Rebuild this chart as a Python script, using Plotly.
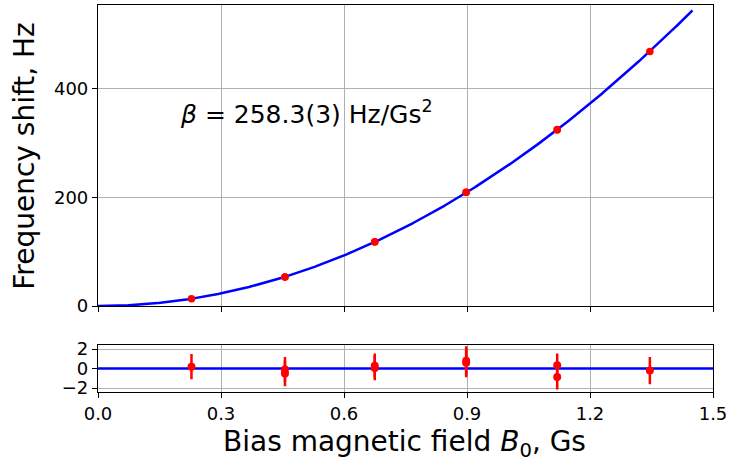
import numpy as np
import plotly.graph_objects as go

# ---------------- data ----------------
beta = 258.3  # Hz/Gs^2 (fit)
field_B0 = [0.228, 0.456, 0.456, 0.675, 0.675, 0.898, 0.898, 1.120, 1.120, 1.346]
freq_shift = [13.6, 53.6, 53.2, 118.0, 117.7, 209.1, 208.9, 324.3, 323.2, 467.8]
residuals = [0.2, -0.1, -0.5, 0.3, 0.05, 0.8, 0.6, 0.35, -0.85, -0.2]
residual_err = [1.3, 1.3, 1.3, 1.25, 1.25, 1.5, 1.5, 1.2, 1.3, 1.4]
fit_x_max = 1.45
x_ticks = [0.0, 0.3, 0.6, 0.9, 1.2, 1.5]
y_ticks_main = [0, 200, 400]
y_ticks_res = [-2, 0, 2]

fit_x = np.linspace(0, fit_x_max, 600)
fit_y = beta * fit_x ** 2

RED = "#ff0000"
BLUE = "#0000ff"
GRID = "#b0b0b0"
FONT = "DejaVu Sans"

fig = go.Figure()

fig.add_trace(go.Scatter(x=fit_x, y=fit_y, mode="lines",
                         line=dict(color=BLUE, width=2.5),
                         xaxis="x", yaxis="y", showlegend=False))
fig.add_trace(go.Scatter(x=field_B0, y=freq_shift, mode="markers",
                         marker=dict(color=RED, size=7.5),
                         xaxis="x", yaxis="y", showlegend=False))

fig.add_trace(go.Scatter(x=[x_ticks[0], x_ticks[-1]], y=[0, 0], mode="lines",
                         line=dict(color=BLUE, width=2.5),
                         xaxis="x2", yaxis="y2", showlegend=False))
fig.add_trace(go.Scatter(x=field_B0, y=residuals, mode="markers",
                         marker=dict(color=RED, size=8),
                         error_y=dict(type="data", array=residual_err, color=RED,
                                      thickness=2.5, width=0),
                         xaxis="x2", yaxis="y2", showlegend=False))

axis_common = dict(showline=True, linecolor="black", linewidth=1.2, mirror=True,
                   ticks="outside", ticklen=5, tickwidth=1.2, tickcolor="black",
                   showgrid=True, gridcolor=GRID, gridwidth=1, zeroline=False,
                   automargin=False,
                   tickfont=dict(family=FONT, size=18, color="black"))

dom_main = [0.222, 1.0]
dom_res = [0.0, 0.121]

fig.update_layout(
    width=733, height=461,
    margin=dict(l=98, r=20, t=5, b=69, autoexpand=False),
    plot_bgcolor="white", paper_bgcolor="white",
    font=dict(family=FONT, color="black"),
    xaxis=dict(domain=[0, 1], anchor="y", range=[0, 1.5], tickvals=x_ticks,
               showticklabels=False, **axis_common),
    yaxis=dict(domain=dom_main, anchor="x", range=[0, 553], tickvals=y_ticks_main,
               **axis_common),
    xaxis2=dict(domain=[0, 1], anchor="y2", range=[0, 1.5], tickvals=x_ticks,
                tickformat=".1f", matches="x", **axis_common),
    yaxis2=dict(domain=dom_res, anchor="x2", range=[-2.4, 2.4], tickvals=y_ticks_res,
                ticktext=["\u22122", "0", "2"], **axis_common),
    annotations=[
        dict(x=0.195, y=355, xref="x", yref="y", xanchor="left",
             yanchor="middle", showarrow=False,
             text="<i>\u03b2</i> = 258.3(3) Hz/Gs<sup>2</sup>",
             font=dict(family=FONT, size=25, color="black")),
        dict(x=0.499, y=-0.134, xref="paper", yref="paper", xanchor="center",
             yanchor="middle", showarrow=False,
             text="Bias magnetic field <i>B</i><sub>0</sub>, Gs",
             font=dict(family=FONT, size=28, color="black")),
        dict(x=-0.119, y=0.61, xref="paper", yref="paper", xanchor="center",
             yanchor="middle", showarrow=False, textangle=-90,
             text="Frequency shift, Hz",
             font=dict(family=FONT, size=28, color="black")),
    ],
)

fig.write_html("out.html", config={"displayModeBar": False},
               post_script="document.body.style.margin='0px';document.body.style.overflow='hidden';")
